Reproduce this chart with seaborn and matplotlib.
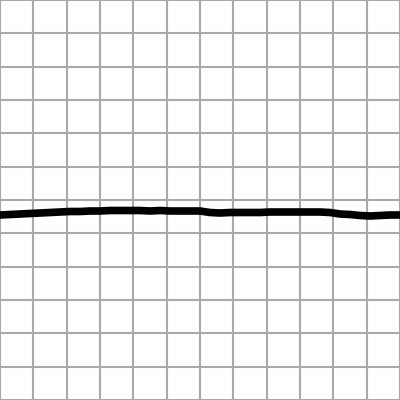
import numpy as np
import matplotlib
matplotlib.use("Agg")
import matplotlib.pyplot as plt
import seaborn as sns

# sample position (grid units, 0..12) and signal level
t = [0.0, 0.3, 0.6, 0.9, 1.2, 1.5, 1.8, 2.1, 2.4, 2.7, 3.0, 3.3, 3.6, 3.9,
     4.2, 4.5, 4.8, 5.1, 5.4, 5.7, 6.0, 6.3, 6.6, 6.9, 7.2, 7.5, 7.8, 8.1,
     8.4, 8.7, 9.0, 9.3, 9.6, 9.9, 10.2, 10.5, 10.8, 11.1, 11.4, 11.7, 12.0]
level = [5.55, 5.565, 5.58, 5.595, 5.61, 5.625, 5.64, 5.655, 5.655, 5.67, 5.67,
         5.685, 5.685, 5.685, 5.685, 5.67, 5.685, 5.67, 5.67, 5.67, 5.67, 5.625,
         5.61, 5.625, 5.625, 5.625, 5.625, 5.64, 5.64, 5.64, 5.64, 5.64, 5.64,
         5.625, 5.58, 5.565, 5.535, 5.52, 5.535, 5.55, 5.55]

sns.set_style("white")
fig = plt.figure(figsize=(4, 4), dpi=100)
ax = fig.add_axes([0, 0, 1, 1])

sns.lineplot(x=t, y=level, ax=ax, color="black", linewidth=5.5)

ax.set_xlim(0, 12)
ax.set_ylim(0, 12)
ax.set_xticks(np.arange(0, 13, 1))
ax.set_yticks(np.arange(0, 13, 1))
ax.grid(True, color="#aaaaaa", linewidth=1.5)
ax.set_axisbelow(True)
ax.tick_params(length=0, labelbottom=False, labelleft=False)
for s in ax.spines.values():
    s.set_visible(False)

fig.savefig("out.png", dpi=100)
